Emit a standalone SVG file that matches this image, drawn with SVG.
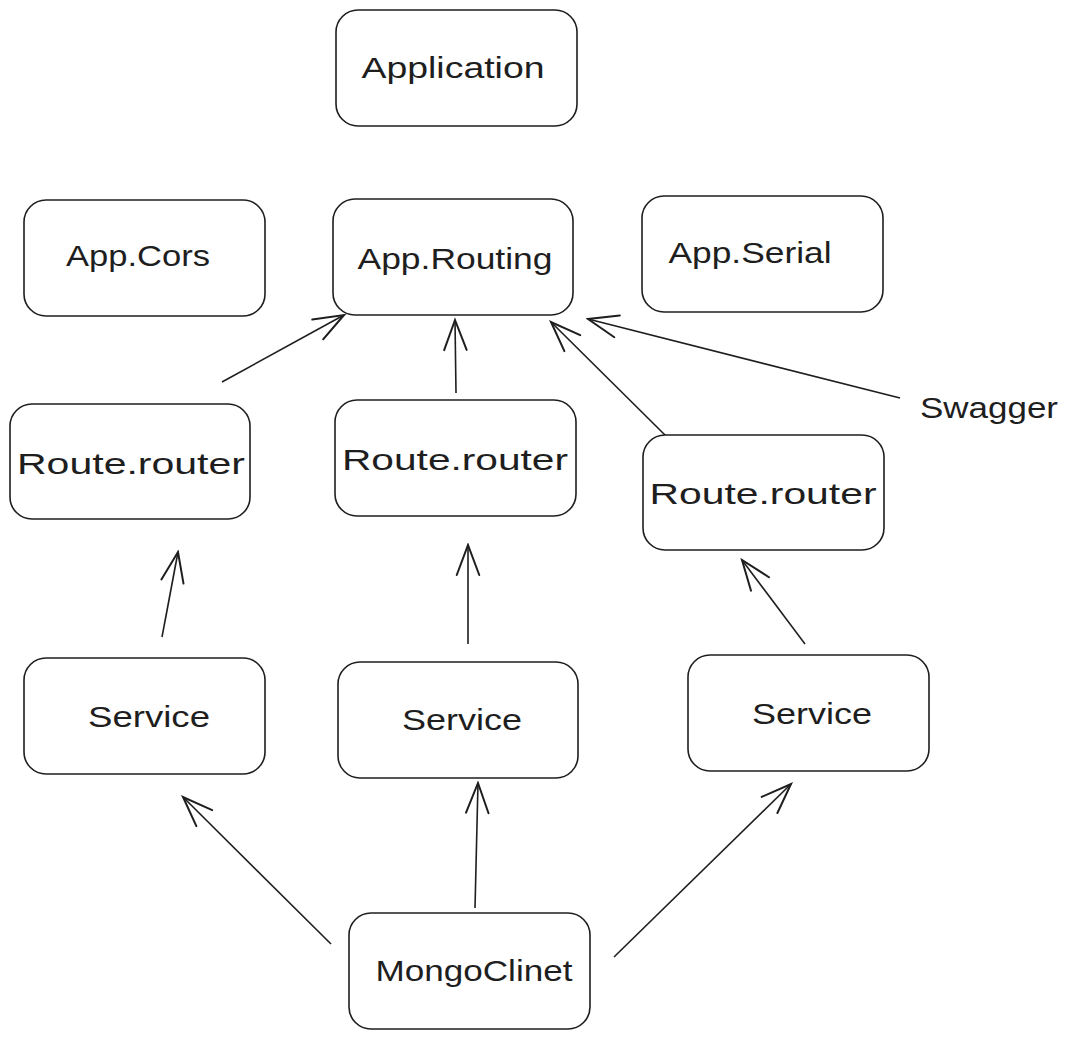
<svg xmlns="http://www.w3.org/2000/svg" width="1070" height="1039" viewBox="0 0 1070 1039">
<style>
.box{fill:#fff;stroke:#1e1e1e;stroke-width:1.6}
.lbl{font-family:"Liberation Sans","DejaVu Sans",sans-serif;font-size:30px;fill:#1e1e1e;text-anchor:middle;dominant-baseline:central}
.conn{fill:none;stroke:#1e1e1e;stroke-width:1.6;marker-end:url(#ah)}
</style>
<defs>
<marker id="ah" markerUnits="userSpaceOnUse" markerWidth="40" markerHeight="40" refX="0" refY="0" viewBox="-30 -15 32 30" orient="auto">
<path d="M-24,-9 L0,0 L-24,9" fill="none" stroke="#1e1e1e" stroke-width="1.6" stroke-linecap="round"/>
</marker>
</defs>
<rect width="1070" height="1039" fill="#fff"/>
<g id="connectors">
<line class="conn" x1="222" y1="382" x2="344" y2="315"/>
<line class="conn" x1="456" y1="393" x2="455" y2="320"/>
<line class="conn" x1="666" y1="436" x2="551" y2="322"/>
<line class="conn" x1="900" y1="398" x2="588" y2="319"/>
<line class="conn" x1="162" y1="637" x2="178" y2="552"/>
<line class="conn" x1="468" y1="644" x2="468" y2="545"/>
<line class="conn" x1="805" y1="644" x2="742" y2="560"/>
<line class="conn" x1="331" y1="944" x2="183" y2="797"/>
<line class="conn" x1="475" y1="908" x2="478" y2="783"/>
<line class="conn" x1="614" y1="957" x2="791" y2="784"/>
</g>
<g id="application"><rect class="box" x="336" y="10" width="241" height="116" rx="22"/><text class="lbl" x="453" y="67" textLength="183" lengthAdjust="spacingAndGlyphs">Application</text></g>
<g id="app-cors"><rect class="box" x="24" y="200" width="241" height="116" rx="22"/><text class="lbl" x="138" y="255" textLength="144" lengthAdjust="spacingAndGlyphs">App.Cors</text></g>
<g id="app-routing"><rect class="box" x="333" y="199" width="240" height="116" rx="22"/><text class="lbl" x="455" y="258" textLength="195" lengthAdjust="spacingAndGlyphs">App.Routing</text></g>
<g id="app-serial"><rect class="box" x="642" y="196" width="241" height="116" rx="22"/><text class="lbl" x="750" y="252" textLength="163" lengthAdjust="spacingAndGlyphs">App.Serial</text></g>
<g id="route-router-1"><rect class="box" x="10" y="404" width="240" height="115" rx="22"/><text class="lbl" x="131" y="463" textLength="228" lengthAdjust="spacingAndGlyphs">Route.router</text></g>
<g id="route-router-2"><rect class="box" x="335" y="400" width="241" height="116" rx="22"/><text class="lbl" x="455" y="459" textLength="226" lengthAdjust="spacingAndGlyphs">Route.router</text></g>
<g id="route-router-3"><rect class="box" x="643" y="435" width="241" height="115" rx="22"/><text class="lbl" x="763" y="493" textLength="227" lengthAdjust="spacingAndGlyphs">Route.router</text></g>
<g id="service-1"><rect class="box" x="24" y="658" width="241" height="116" rx="22"/><text class="lbl" x="149" y="716" textLength="122" lengthAdjust="spacingAndGlyphs">Service</text></g>
<g id="service-2"><rect class="box" x="338" y="662" width="240" height="116" rx="22"/><text class="lbl" x="462" y="719" textLength="120" lengthAdjust="spacingAndGlyphs">Service</text></g>
<g id="service-3"><rect class="box" x="688" y="655" width="241" height="116" rx="22"/><text class="lbl" x="812" y="713" textLength="120" lengthAdjust="spacingAndGlyphs">Service</text></g>
<g id="mongoclinet"><rect class="box" x="349" y="913" width="241" height="116" rx="22"/><text class="lbl" x="474" y="970" textLength="197" lengthAdjust="spacingAndGlyphs">MongoClinet</text></g>
<g id="swagger"><text class="lbl" x="989" y="407" textLength="138" lengthAdjust="spacingAndGlyphs">Swagger</text></g>
</svg>
